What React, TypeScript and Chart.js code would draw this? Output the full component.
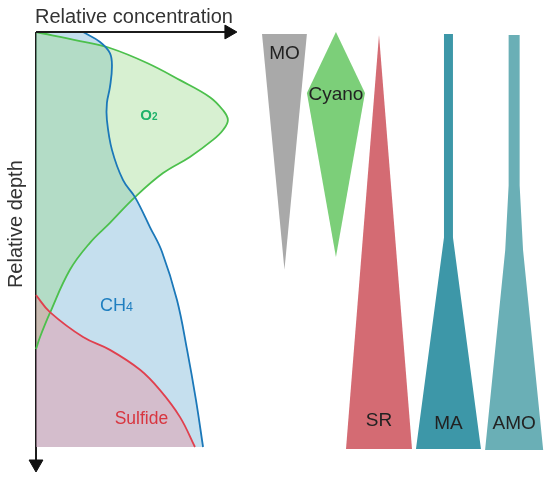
import React, { useEffect, useRef } from "react";
import { Chart, registerables } from "chart.js";

Chart.register(...registerables);

// ---- Left panel: relative depth (0 = top, 1 = bottom) vs relative concentration ----
const O2_DEPTH = [0, 0.0217, 0.0386, 0.0747, 0.116, 0.157, 0.188, 0.212, 0.236, 0.26, 0.301, 0.34, 0.398, 0.46, 0.508, 0.573, 0.677, 0.735, 0.764];
const O2_CONC = [0, 0.218, 0.366, 0.55, 0.713, 0.861, 0.925, 0.95, 0.926, 0.876, 0.762, 0.629, 0.49, 0.366, 0.267, 0.168, 0.069, 0.02, 0];

const CH4_DEPTH = [0, 0.024, 0.051, 0.084, 0.133, 0.171, 0.212, 0.284, 0.357, 0.398, 0.47, 0.53, 0.646, 0.766, 0.887, 1.0];
const CH4_CONC = [0.233, 0.317, 0.366, 0.376, 0.366, 0.351, 0.351, 0.376, 0.431, 0.49, 0.564, 0.624, 0.698, 0.748, 0.792, 0.827];

const SULFIDE_DEPTH = [0.634, 0.675, 0.735, 0.766, 0.814, 0.863, 0.928, 1.0];
const SULFIDE_CONC = [0, 0.069, 0.233, 0.366, 0.515, 0.614, 0.713, 0.787];

// ---- Right panel: relative abundance (half-width) of each group with depth ----
const GROUPS = ["MO", "Cyano", "SR", "MA", "AMO"];
const MO_DEPTH = [0.005, 0.573];
const MO_ABUND = [0.68, 0];
const CYANO_DEPTH = [0, 0.147, 0.542];
const CYANO_ABUND = [0, 0.88, 0];
const SR_DEPTH = [0.007, 1.005];
const SR_ABUND = [0, 1.0];
const MA_DEPTH = [0.005, 0.495, 1.005];
const MA_ABUND = [0.136, 0.136, 0.985];
const AMO_DEPTH = [0.007, 0.37, 0.525, 1.007];
const AMO_ABUND = [0.167, 0.167, 0.27, 0.88];

// ---- layout / style (not data) ----
const COL_X = [8.62, 10.18, 11.485, 13.59, 15.58];
const GROUP_COLORS = ["#a9a9a9", "#7ccf79", "#d46b73", "#3d97a8", "#6aafb6"];
const GROUP_LABEL_DEPTH = [0.053, 0.152, 0.937, 0.945, 0.945];
const FONT = "'Liberation Sans', Arial, Helvetica, sans-serif";

const pts = (depth: number[], conc: number[]) => depth.map((d, i) => ({ x: conc[i], y: d }));

const labelPlugin = {
  id: "textLabels",
  afterDatasetsDraw(chart: any) {
    const { ctx, scales } = chart;
    const ys = scales.y, xc = scales.xc, xp = scales.xp;
    ctx.save();
    const sub = (main: string, s: string, cx: number, cy: number, f: number, fs: number, color: string, weight: string) => {
      ctx.fillStyle = color;
      ctx.textBaseline = "alphabetic";
      ctx.textAlign = "left";
      ctx.font = `${weight} ${f}px ${FONT}`;
      const w1 = ctx.measureText(main).width;
      ctx.font = `${weight} ${fs}px ${FONT}`;
      const w2 = ctx.measureText(s).width;
      const x0 = cx - (w1 + w2) / 2;
      const base = cy + 0.358 * f;
      ctx.font = `${weight} ${f}px ${FONT}`;
      ctx.fillText(main, x0, base);
      ctx.font = `${weight} ${fs}px ${FONT}`;
      ctx.fillText(s, x0 + w1, base);
    };
    // axis titles
    ctx.fillStyle = "#333";
    ctx.font = `20px ${FONT}`;
    ctx.textAlign = "left";
    ctx.textBaseline = "middle";
    ctx.fillText("Relative concentration", xc.getPixelForValue(-0.005), ys.getPixelForValue(-0.036));
    ctx.save();
    ctx.translate(xc.getPixelForValue(-0.099), ys.getPixelForValue(0.463));
    ctx.rotate(-Math.PI / 2);
    ctx.textAlign = "center";
    ctx.fillText("Relative depth", 0, 0);
    ctx.restore();
    // species labels
    sub("O", "2", xc.getPixelForValue(0.559), ys.getPixelForValue(0.2), 15, 10, "#1eb26a", "bold");
    sub("CH", "4", xc.getPixelForValue(0.3985), ys.getPixelForValue(0.657), 18, 12.5, "#1f7fc0", "normal");
    ctx.fillStyle = "#d8353f";
    ctx.font = `17.5px ${FONT}`;
    ctx.textAlign = "center";
    ctx.textBaseline = "middle";
    ctx.fillText("Sulfide", xc.getPixelForValue(0.522), ys.getPixelForValue(0.934));
    // group labels
    ctx.fillStyle = "#222";
    ctx.font = `19px ${FONT}`;
    GROUPS.forEach((g, i) => {
      ctx.fillText(g, xp.getPixelForValue(COL_X[i]), ys.getPixelForValue(GROUP_LABEL_DEPTH[i]));
    });
    ctx.restore();
  },
};

export default function App() {
  const ref = useRef<HTMLCanvasElement>(null);
  useEffect(() => {
    if (!ref.current) return;
    const base = { pointRadius: 0, pointHoverRadius: 0, yAxisID: "y" };
    const fillSet = (depth: number[], conc: number[], color: string, order: number) => ({
      ...base,
      data: pts(depth, conc),
      xAxisID: "xc",
      borderColor: "rgba(0,0,0,0)",
      borderWidth: 1,
      backgroundColor: color,
      fill: "origin",
      tension: 0.4,
      order,
    });
    const lineSet = (depth: number[], conc: number[], color: string, order: number) => ({
      ...base,
      data: pts(depth, conc),
      xAxisID: "xc",
      borderColor: color,
      borderWidth: 1.8,
      fill: false,
      tension: 0.4,
      order,
    });
    const profiles = [
      [MO_DEPTH, MO_ABUND],
      [CYANO_DEPTH, CYANO_ABUND],
      [SR_DEPTH, SR_ABUND],
      [MA_DEPTH, MA_ABUND],
      [AMO_DEPTH, AMO_ABUND],
    ];
    const groupSets: any[] = [];
    profiles.forEach(([depth, ab], i) => {
      groupSets.push({
        ...base,
        data: depth.map((d, k) => ({ x: COL_X[i] - ab[k], y: d })),
        xAxisID: "xp",
        borderColor: "rgba(0,0,0,0)",
        borderWidth: 1,
        fill: false,
        tension: 0,
        order: 3,
      });
      groupSets.push({
        ...base,
        data: depth.map((d, k) => ({ x: COL_X[i] + ab[k], y: d })),
        xAxisID: "xp",
        borderColor: "rgba(0,0,0,0)",
        borderWidth: 1,
        backgroundColor: GROUP_COLORS[i],
        fill: "-1",
        tension: 0,
        order: 3,
      });
    });
    const datasets: any[] = [
      // vertical depth axis (behind fills)
      {
        ...base,
        data: [{ x: 0, y: 0 }, { x: 0, y: 1.041 }],
        xAxisID: "xc",
        borderColor: "#1c1c1c",
        borderWidth: 2,
        pointRadius: [0, 8],
        pointStyle: "triangle",
        pointRotation: 180,
        pointBackgroundColor: "#111",
        pointBorderColor: "#111",
        pointBorderWidth: 1,
        fill: false,
        order: 20,
      },
      fillSet(CH4_DEPTH, CH4_CONC, "rgba(120,180,215,0.43)", 12),
      fillSet(O2_DEPTH, O2_CONC, "rgba(150,215,135,0.38)", 11),
      fillSet(SULFIDE_DEPTH, SULFIDE_CONC, "rgba(240,125,140,0.35)", 10),
      lineSet(O2_DEPTH, O2_CONC, "#4cc04c", 6),
      lineSet(CH4_DEPTH, CH4_CONC, "#1b78b9", 5),
      lineSet(SULFIDE_DEPTH, SULFIDE_CONC, "#e0404e", 4),
      // horizontal concentration axis
      {
        ...base,
        data: [{ x: 0, y: 0 }, { x: 0.955, y: 0 }],
        xAxisID: "xc",
        borderColor: "#1c1c1c",
        borderWidth: 1.8,
        pointRadius: [0, 8],
        pointStyle: "triangle",
        pointRotation: 90,
        pointBackgroundColor: "#111",
        pointBorderColor: "#111",
        pointBorderWidth: 1,
        fill: false,
        order: 0,
      },
      ...groupSets,
    ];
    const chart = new Chart(ref.current, {
      type: "line",
      data: { datasets },
      options: {
        indexAxis: "y",
        animation: false,
        responsive: false,
        devicePixelRatio: 1,
        layout: { padding: 0, autoPadding: false },
        plugins: { legend: { display: false }, tooltip: { enabled: false }, filler: { propagate: false } },
        events: [],
        scales: {
          y: { type: "linear", reverse: true, min: -32 / 415, max: 450 / 415, display: false },
          xc: { type: "linear", axis: "x", min: -36 / 202, max: 514 / 202, display: false },
          xp: { type: "linear", axis: "x", min: 0, max: 550 / 33, display: false },
        },
      } as any,
      plugins: [labelPlugin],
    });
    return () => chart.destroy();
  }, []);
  return (
    <div style={{ position: "absolute", left: 0, top: 0, width: 550, height: 482, background: "#fff" }}>
      <canvas ref={ref} width={550} height={482} style={{ display: "block" }} />
    </div>
  );
}
